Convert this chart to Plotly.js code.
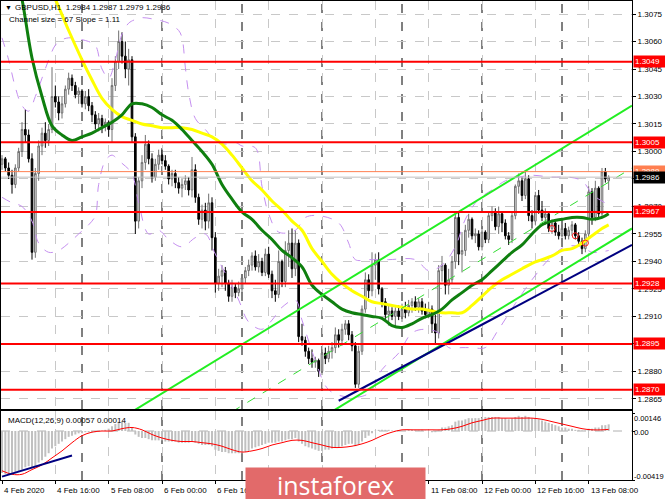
<!DOCTYPE html>
<html><head><meta charset="utf-8">
<script src="https://cdn.plot.ly/plotly-3.0.1.min.js"></script>
<style>html,body{margin:0;padding:0;background:#fff;overflow:hidden}#chart{width:665px;height:499px}</style>
</head><body><div id="chart"></div>
<script>
// ---------- DATA (GBPUSD H1, bar index 0 = 4 Feb 2020 00:00) ----------
const open = [
1.2993,1.2996,1.2991,1.2987,1.2982,1.2991,1.3000,1.3012,1.3009,1.2996,
1.2945,1.2988,1.3003,1.3010,1.3006,1.3012,1.3030,1.3027,1.3021,1.3026,
1.3034,1.3040,1.3036,1.3031,1.3033,1.3026,1.3030,1.3025,1.3020,1.3015,
1.3018,1.3014,1.3016,1.3012,1.3036,1.3049,1.3060,1.3052,1.3045,1.3050,
1.3008,1.2962,1.2984,1.2994,1.3004,1.2996,1.2986,1.2993,1.2998,1.2995,
1.2992,1.2985,1.2988,1.2983,1.2980,1.2982,1.2984,1.2979,1.2990,1.2975,
1.2963,1.2968,1.2962,1.2972,1.2953,1.2928,1.2932,1.2935,1.2928,1.2921,
1.2926,1.2923,1.2925,1.2931,1.2935,1.2938,1.2943,1.2937,1.2940,1.2934,
1.2944,1.2933,1.2924,1.2922,1.2940,1.2929,1.2946,1.2950,1.2936,1.2950,
1.2899,1.2897,1.2891,1.2887,1.2885,1.2886,1.2880,1.2890,1.2887,1.2891,
1.2893,1.2900,1.2897,1.2903,1.2906,1.2900,1.2894,1.2873,1.2891,1.2914,
1.2930,1.2924,1.2938,1.2941,1.2925,1.2918,1.2911,1.2913,1.2910,1.2913,
1.2910,1.2914,1.2912,1.2916,1.2918,1.2915,1.2918,1.2913,1.2911,1.2914,
1.2906,1.2901,1.2935,1.2938,1.2927,1.2930,1.2940,1.2964,1.2944,1.2946,
1.2957,1.2963,1.2954,1.2955,1.2948,1.2956,1.2952,1.2965,1.2967,1.2959,
1.2966,1.2961,1.2954,1.2952,1.2965,1.2981,1.2984,1.2976,1.2985,1.2965,
1.2962,1.2976,1.2968,1.2964,1.2966,1.2958,1.2961,1.2956,1.2954,1.2958,
1.2954,1.2957,1.2960,1.2954,1.2951,1.2947,1.2955,1.2978,1.2964,1.2980,
1.2966,1.2989,1.2984];
const high = [
1.2998,1.2997,1.2994,1.2990,1.2993,1.3002,1.3016,1.3023,1.3012,1.2999,
1.2991,1.3006,1.3013,1.3016,1.3015,1.3046,1.3036,1.3030,1.3030,1.3036,
1.3043,1.3042,1.3038,1.3035,1.3034,1.3033,1.3034,1.3027,1.3022,1.3021,
1.3020,1.3018,1.3017,1.3040,1.3052,1.3066,1.3065,1.3060,1.3056,1.3052,
1.3010,1.2986,1.2998,1.3009,1.3006,1.2999,1.2996,1.3001,1.3001,1.2998,
1.2993,1.2990,1.2990,1.2986,1.2985,1.2987,1.2986,1.2997,1.2993,1.2977,
1.2971,1.2972,1.2977,1.2975,1.2956,1.2936,1.2938,1.2937,1.2930,1.2930,
1.2928,1.2929,1.2933,1.2937,1.2941,1.2945,1.2946,1.2944,1.2942,1.2947,
1.2948,1.2935,1.2930,1.2946,1.2941,1.2951,1.2957,1.2958,1.2957,1.2952,
1.2906,1.2899,1.2893,1.2892,1.2888,1.2887,1.2892,1.2893,1.2894,1.2896,
1.2904,1.2903,1.2906,1.2908,1.2908,1.2902,1.2896,1.2894,1.2916,1.2934,
1.2933,1.2945,1.2944,1.2945,1.2926,1.2920,1.2916,1.2915,1.2915,1.2916,
1.2917,1.2918,1.2919,1.2920,1.2921,1.2920,1.2920,1.2917,1.2918,1.2916,
1.2911,1.2938,1.2943,1.2939,1.2936,1.2943,1.2966,1.2967,1.2956,1.2960,
1.2966,1.2964,1.2958,1.2957,1.2959,1.2957,1.2967,1.2970,1.2969,1.2970,
1.2967,1.2963,1.2956,1.2967,1.2982,1.2988,1.2986,1.2989,1.2987,1.2968,
1.2978,1.2979,1.2973,1.2969,1.2967,1.2963,1.2962,1.2960,1.2960,1.2961,
1.2959,1.2962,1.2961,1.2956,1.2953,1.2957,1.2981,1.2980,1.2984,1.2981,
1.2991,1.2991,1.2987];
const low = [
1.2990,1.2989,1.2985,1.2977,1.2980,1.2989,1.2997,1.3005,1.2994,1.2941,
1.2942,1.2984,1.2998,1.3002,1.3003,1.3010,1.3024,1.3017,1.3018,1.3024,
1.3031,1.3033,1.3029,1.3026,1.3024,1.3023,1.3022,1.3016,1.3012,1.3011,
1.3010,1.3011,1.3008,1.3005,1.3033,1.3045,1.3048,1.3040,1.3036,1.3005,
1.2955,1.2958,1.2980,1.2990,1.2993,1.2983,1.2984,1.2990,1.2993,1.2990,
1.2982,1.2981,1.2980,1.2977,1.2975,1.2979,1.2976,1.2975,1.2972,1.2960,
1.2958,1.2957,1.2958,1.2946,1.2923,1.2924,1.2926,1.2924,1.2918,1.2918,
1.2920,1.2921,1.2923,1.2928,1.2932,1.2935,1.2935,1.2934,1.2932,1.2932,
1.2931,1.2920,1.2918,1.2920,1.2926,1.2926,1.2937,1.2931,1.2932,1.2896,
1.2894,1.2888,1.2884,1.2882,1.2882,1.2877,1.2878,1.2884,1.2885,1.2887,
1.2890,1.2893,1.2894,1.2900,1.2897,1.2891,1.2871,1.2871,1.2889,1.2912,
1.2920,1.2921,1.2930,1.2922,1.2915,1.2908,1.2905,1.2908,1.2904,1.2908,
1.2907,1.2909,1.2910,1.2912,1.2913,1.2912,1.2911,1.2909,1.2909,1.2901,
1.2895,1.2898,1.2929,1.2922,1.2922,1.2928,1.2936,1.2938,1.2934,1.2943,
1.2953,1.2952,1.2950,1.2946,1.2946,1.2950,1.2950,1.2962,1.2957,1.2955,
1.2956,1.2952,1.2949,1.2950,1.2963,1.2977,1.2973,1.2974,1.2962,1.2958,
1.2960,1.2966,1.2962,1.2960,1.2956,1.2955,1.2954,1.2952,1.2953,1.2952,
1.2952,1.2954,1.2952,1.2949,1.2944,1.2945,1.2953,1.2960,1.2962,1.2963,
1.2964,1.2983,1.2979];
const close = [
1.2996,1.2991,1.2987,1.2982,1.2991,1.3000,1.3012,1.3009,1.2996,1.2945,
1.2988,1.3003,1.3010,1.3006,1.3012,1.3030,1.3027,1.3021,1.3026,1.3034,
1.3040,1.3036,1.3031,1.3033,1.3026,1.3030,1.3025,1.3020,1.3015,1.3018,
1.3014,1.3016,1.3012,1.3036,1.3049,1.3060,1.3052,1.3045,1.3050,1.3008,
1.2962,1.2984,1.2994,1.3004,1.2996,1.2986,1.2993,1.2998,1.2995,1.2992,
1.2985,1.2988,1.2983,1.2980,1.2982,1.2984,1.2979,1.2990,1.2975,1.2963,
1.2968,1.2962,1.2972,1.2953,1.2928,1.2932,1.2935,1.2928,1.2921,1.2926,
1.2923,1.2925,1.2931,1.2935,1.2938,1.2943,1.2937,1.2940,1.2934,1.2944,
1.2933,1.2924,1.2922,1.2940,1.2929,1.2946,1.2950,1.2936,1.2950,1.2899,
1.2897,1.2891,1.2887,1.2885,1.2886,1.2880,1.2890,1.2887,1.2891,1.2893,
1.2900,1.2897,1.2903,1.2906,1.2900,1.2894,1.2873,1.2891,1.2914,1.2930,
1.2924,1.2938,1.2941,1.2925,1.2918,1.2911,1.2913,1.2910,1.2913,1.2910,
1.2914,1.2912,1.2916,1.2918,1.2915,1.2918,1.2913,1.2911,1.2914,1.2906,
1.2901,1.2935,1.2938,1.2927,1.2930,1.2940,1.2964,1.2944,1.2946,1.2957,
1.2963,1.2954,1.2955,1.2948,1.2956,1.2952,1.2965,1.2967,1.2959,1.2966,
1.2961,1.2954,1.2952,1.2965,1.2981,1.2984,1.2976,1.2985,1.2965,1.2962,
1.2976,1.2968,1.2964,1.2966,1.2958,1.2961,1.2956,1.2954,1.2958,1.2954,
1.2957,1.2960,1.2954,1.2951,1.2947,1.2955,1.2978,1.2964,1.2980,1.2966,
1.2989,1.2985,1.2986];

// Moving averages (bar index, price)
const maYellowX = [14,16,20,24,27,30,33,36,39,42,45,48,51,54,57,60,63,66,69,72,75,78,81,84,87,90,93,96,99,102,105,108,111,114,117,120,123,126,129,132,135,138,141,144,147,150,153,156,159,162,165,168,171,174,177,180,182];
const maYellowY = [1.3090,1.3083,1.3066,1.3050,1.3039,1.3029,1.3023,1.3019,1.3017,1.3015,1.3014,1.3013,1.3013,1.3013,1.3012,1.3010,1.3008,1.3004,1.2998,1.2991,1.2984,1.2979,1.2973,1.2968,1.2962,1.2957,1.2947,1.2940,1.2933,1.2928,1.2924,1.2921,1.2918,1.2917,1.2916,1.2915,1.2914,1.2914,1.2913,1.2912,1.2912,1.2912,1.2916,1.2921,1.2926,1.2930,1.2933,1.2936,1.2939,1.2941,1.2943,1.2946,1.2947,1.2950,1.2954,1.2958,1.2960];
const maGreenX = [5,6,9,12,15,18,21,24,27,30,33,36,39,42,45,48,51,54,57,60,63,66,69,72,75,78,81,84,87,90,93,96,99,102,105,108,111,114,117,120,123,126,129,132,135,138,141,144,147,150,153,156,159,162,165,168,171,174,177,180,182];
const maGreenY = [1.3090,1.3083,1.3051,1.3030,1.3014,1.3009,1.3006,1.3008,1.3010,1.3013,1.3016,1.3020,1.3026,1.3026,1.3024,1.3020,1.3017,1.3012,1.3006,1.3000,1.2993,1.2982,1.2974,1.2967,1.2963,1.2957,1.2952,1.2946,1.2942,1.2937,1.2927,1.2922,1.2918,1.2914,1.2912,1.2911,1.2910,1.2909,1.2905,1.2904,1.2906,1.2909,1.2911,1.2914,1.2919,1.2923,1.2927,1.2930,1.2935,1.2940,1.2945,1.2949,1.2955,1.2960,1.2962,1.2963,1.2964,1.2964,1.2963,1.2964,1.2966];

// Bollinger-style bands (dashed violet)
const bbUpX = [0,2,4,6,8,10,12,14,16,18,20,22,24,26,28,30,32,34,36,38,40,42,46,50,53,54,55,56,58,61,64,67,70,72,76,78,80,83,88,91,95,101,104,106,110,116,124,128,132,136,139,143,147,151,155,159,165,170,174,177,179,182];
const bbUpY = [1.3062,1.3050,1.3035,1.3025,1.3022,1.3030,1.3040,1.3050,1.3058,1.3061,1.3062,1.3062,1.3061,1.3060,1.3058,1.3045,1.3040,1.3050,1.3064,1.3070,1.3072,1.3073,1.3072,1.3070,1.3066,1.3062,1.3046,1.3032,1.3018,1.3012,1.3006,1.3004,1.3005,1.3003,1.3002,1.2981,1.2966,1.2956,1.2957,1.2964,1.2965,1.2961,1.2950,1.2941,1.2941,1.2941,1.2941,1.2935,1.2938,1.2948,1.2963,1.2974,1.2979,1.2984,1.2986,1.2987,1.2986,1.2986,1.2984,1.2977,1.2974,1.2971];
const bbLoX = [0,3,6,9,11,14,17,20,23,26,28,29,31,33,35,37,39,41,44,47,50,54,58,61,64,68,71,74,78,81,84,88,90,94,98,104,110,114,119,123,127,131,134,138,141,145,149,154,159,164,169,174,177,182];
const bbLoY = [1.2975,1.2972,1.2970,1.2962,1.2950,1.2945,1.2946,1.2950,1.2955,1.2960,1.2965,1.2982,1.2995,1.2998,1.2995,1.2992,1.2988,1.2972,1.2955,1.2957,1.2952,1.2948,1.2953,1.2955,1.2944,1.2930,1.2919,1.2907,1.2903,1.2908,1.2915,1.2919,1.2908,1.2886,1.2870,1.2866,1.2868,1.2881,1.2890,1.2901,1.2903,1.2901,1.2893,1.2893,1.2893,1.2893,1.2903,1.2917,1.2930,1.2941,1.2948,1.2948,1.2945,1.2946];

// Regression channel (Channel size = 67, Slope = 1.11) and trend line
const chUpperX = [39, 189], chUpperY = [1.2858, 1.3025];
const chMidX   = [69, 189], chMidY   = [1.2858, 1.2991];
const chLowerX = [98, 189], chLowerY = [1.2857, 1.2958];
const trendX   = [101, 189], trendY  = [1.2864, 1.2949];

// Horizontal levels
const redLevels = [1.3049, 1.3005, 1.2967, 1.2928, 1.2895, 1.2870];
const orangeLevel = 1.2989;
const bidLevel = 1.2986;

// Small red circle markers
const circX = [165, 172, 175], circY = [1.2958, 1.2954, 1.2950];

// MACD(12,26,9)
const macdHist = [
-0.0036,-0.0037,-0.0037,-0.0037,-0.0036,-0.0035,-0.0033,-0.0031,-0.0030,-0.0031,
-0.0030,-0.0027,-0.0025,-0.0022,-0.0019,-0.0015,-0.0013,-0.0011,-0.0009,-0.0007,
-0.0005,-0.0004,-0.0003,-0.0002,-0.0002,-0.0001,-0.0001,-0.0001,-0.0001,-0.00003,
0.00003,0.0001,0.0002,0.0004,0.0006,0.0008,0.0008,0.0007,0.0007,0.0003,
-0.0003,-0.0005,-0.0006,-0.0006,-0.0007,-0.0008,-0.0008,-0.0008,-0.0008,-0.0009,
-0.0009,-0.0009,-0.0009,-0.0010,-0.0010,-0.0010,-0.0010,-0.0009,-0.0010,-0.0011,
-0.0012,-0.0012,-0.0012,-0.0013,-0.0016,-0.0017,-0.0018,-0.0018,-0.0019,-0.0019,
-0.0019,-0.0019,-0.0019,-0.0018,-0.0017,-0.0015,-0.0014,-0.0013,-0.0012,-0.0011,
-0.0010,-0.0010,-0.0010,-0.0009,-0.0009,-0.0008,-0.0007,-0.0007,-0.0006,-0.0009,
-0.0011,-0.0013,-0.0014,-0.0015,-0.0016,-0.0017,-0.0017,-0.0016,-0.0016,-0.0015,
-0.0014,-0.0014,-0.0013,-0.0012,-0.0011,-0.0011,-0.0013,-0.0012,-0.0009,-0.0006,
-0.0004,-0.0002,0.00003,0.0001,0.0001,0.0001,0.0001,0.00004,0.00003,0.00003,
0.00003,0.00004,0.0001,0.0001,0.0001,0.0001,0.0001,0.00004,0.00003,-0.0001,
-0.0001,0.0001,0.0003,0.0003,0.0004,0.0005,0.0008,0.0009,0.0009,0.0010,
0.0011,0.0011,0.0011,0.0011,0.0011,0.0012,0.0012,0.0012,0.0012,0.0012,
0.0011,0.0011,0.0010,0.0011,0.0012,0.0013,0.0012,0.0013,0.0012,0.0011,
0.0011,0.0010,0.0009,0.0008,0.0007,0.0006,0.0005,0.0004,0.0003,0.0003,
0.0002,0.0002,0.0001,0.0001,0.00004,0.00004,0.0002,0.0002,0.0003,0.0003,
0.0005,0.0005,0.00057];
const sigX = [0,3,6,9,12,15,18,21,24,27,30,33,36,39,42,45,48,51,54,57,60,63,66,69,72,75,78,81,84,87,90,93,96,99,102,105,108,111,114,117,120,123,126,129,132,135,138,141,144,147,150,153,156,159,162,165,168,171,174,177,180,182];
const sigY = [-0.0034,-0.0037,-0.0037,-0.0033,-0.0029,-0.0023,-0.0017,-0.0010,-0.0004,-0.0001,0.0000,0.0000,0.0002,0.0003,0.0001,-0.0003,-0.0006,-0.0008,-0.0009,-0.0009,-0.0010,-0.0011,-0.0013,-0.0016,-0.0018,-0.0017,-0.0015,-0.0012,-0.0010,-0.0008,-0.0008,-0.0010,-0.0012,-0.0014,-0.0014,-0.0013,-0.0011,-0.0008,-0.0004,-0.0001,0.0001,0.0001,0.0001,0.0001,0.0001,0.0002,0.0004,0.0007,0.0009,0.0011,0.0011,0.0011,0.0011,0.0011,0.0010,0.0008,0.0006,0.0004,0.0002,0.0001,0.0001,0.00014];
const macdTrendX = [0, 21], macdTrendY = [-0.0039, -0.0021];

// Axis labels (labels hidden behind the watermark in the original are left empty)
const timeIdx = [0,16,32,48,64,80,96,112,128,144,160,176];
const timeText = ['4 Feb 2020','4 Feb 16:00','5 Feb 08:00','6 Feb 00:00','6 Feb 16:00','','','','11 Feb 08:00','12 Feb 00:00','12 Feb 16:00','13 Feb 08:00'];
const daySeparators = [24,48,72,96,120,144,168];
const priceTicks = [1.2865,1.2880,1.2895,1.2910,1.2925,1.2940,1.2955,1.2970,1.2985,1.3000,1.3015,1.3030,1.3045,1.3060,1.3075];
const priceTickText = ['1.2865','1.2880','','1.2910','1.2925','1.2940','1.2955','1.2970','','1.3000','1.3015','1.3030','1.3045','1.3060','1.3075'];
const macdTicks = [0.00146, 0, -0.00419];
const macdTickText = ['0.00146','0.00','-0.00419'];

// ---------- LAYOUT HELPERS ----------
const W = 665, H = 499, ML = 1, MR = 33, MT = 1, MB = 19;
const PW = W - ML - MR, PH = H - MT - MB;
const px = p => (p - ML) / PW;
const py = p => (H - MB - p) / PH;
const F = 'Liberation Sans, Arial, sans-serif';
const idx = open.map((_, i) => i);
const last = open.length - 1;
const xr = [-0.3, 189.0];

const traces = [];
traces.push({type:'candlestick', x: idx, open, high, low, close, xaxis:'x', yaxis:'y',
  increasing:{line:{color:'#707070', width:1}, fillcolor:'#e0e0e0'},
  decreasing:{line:{color:'#000000', width:1}, fillcolor:'#000000'},
  whiskerwidth:0, hoverinfo:'skip', showlegend:false});
const bbStyle = {color:'#c58ff0', width:1, dash:'dash', shape:'spline'};
traces.push({type:'scatter', mode:'lines', x:bbUpX, y:bbUpY, line:bbStyle, xaxis:'x', yaxis:'y', hoverinfo:'skip'});
traces.push({type:'scatter', mode:'lines', x:bbLoX, y:bbLoY, line:bbStyle, xaxis:'x', yaxis:'y', hoverinfo:'skip'});
traces.push({type:'scatter', mode:'lines', x:maYellowX, y:maYellowY, line:{color:'#ffff00', width:3, shape:'spline'}, xaxis:'x', yaxis:'y', hoverinfo:'skip'});
traces.push({type:'scatter', mode:'lines', x:maGreenX, y:maGreenY, line:{color:'#0f7f0f', width:3, shape:'spline'}, xaxis:'x', yaxis:'y', hoverinfo:'skip'});
traces.push({type:'scatter', mode:'lines', x:chUpperX, y:chUpperY, line:{color:'#22ee22', width:2}, xaxis:'x', yaxis:'y', hoverinfo:'skip'});
traces.push({type:'scatter', mode:'lines', x:chLowerX, y:chLowerY, line:{color:'#22ee22', width:2}, xaxis:'x', yaxis:'y', hoverinfo:'skip'});
traces.push({type:'scatter', mode:'lines', x:chMidX, y:chMidY, line:{color:'#33dd33', width:1, dash:'dash'}, xaxis:'x', yaxis:'y', hoverinfo:'skip'});
traces.push({type:'scatter', mode:'lines', x:trendX, y:trendY, line:{color:'#000080', width:2}, xaxis:'x', yaxis:'y', hoverinfo:'skip'});
traces.push({type:'scatter', mode:'markers', x:circX, y:circY, marker:{symbol:'circle-open', color:'#ff2020', size:6, line:{width:1}}, xaxis:'x', yaxis:'y', hoverinfo:'skip'});
traces.push({type:'bar', x: idx, y: macdHist, marker:{color:'#c0c0c0'}, xaxis:'x2', yaxis:'y2', hoverinfo:'skip'});
traces.push({type:'scatter', mode:'lines', x:sigX, y:sigY, line:{color:'#ff0000', width:1, shape:'spline'}, xaxis:'x2', yaxis:'y2', hoverinfo:'skip'});
traces.push({type:'scatter', mode:'lines', x:macdTrendX, y:macdTrendY, line:{color:'#000080', width:2}, xaxis:'x2', yaxis:'y2', hoverinfo:'skip'});

const shapes = [];
daySeparators.forEach(d => {
  shapes.push({type:'line', xref:'x', yref:'paper', x0:d, x1:d, y0:py(409), y1:1, layer:'below', line:{color:'#000', width:1, dash:'dash'}});
  shapes.push({type:'line', xref:'x2', yref:'paper', x0:d, x1:d, y0:0, y1:py(411), layer:'below', line:{color:'#000', width:1, dash:'dash'}});
});
shapes.push({type:'line', xref:'paper', yref:'y2', x0:0, x1:1, y0:0, y1:0, layer:'below', line:{color:'#b0b0b0', width:1, dash:'dash'}});
shapes.push({type:'line', xref:'paper', yref:'y', x0:0, x1:1, y0:bidLevel, y1:bidLevel, layer:'above', line:{color:'#c0c0c0', width:1}});
shapes.push({type:'line', xref:'paper', yref:'y', x0:0, x1:1, y0:orangeLevel, y1:orangeLevel, layer:'above', line:{color:'#ff7f50', width:1}});
redLevels.forEach(v => shapes.push({type:'line', xref:'paper', yref:'y', x0:0, x1:1, y0:v, y1:v, layer:'above', line:{color:'#ff0000', width:2}}));

const annotations = [];
const fmt = v => v.toFixed(4);
annotations.push({xref:'paper', yref:'paper', x:px(3), y:py(8), xanchor:'left', yanchor:'middle', text:'\u25BC', showarrow:false, font:{family:F, size:7, color:'#000'}});
annotations.push({xref:'paper', yref:'paper', x:px(13), y:py(8), xanchor:'left', yanchor:'middle',
  text:'GBPUSD,H1\u00a0 ' + [open[last], high[last], low[last], close[last]].map(fmt).join(' '), showarrow:false, font:{family:F, size:8, color:'#000'}});
annotations.push({xref:'paper', yref:'paper', x:px(7), y:py(19), xanchor:'left', yanchor:'middle', text:'Channel size = 67 Slope = 1.11', showarrow:false, font:{family:F, size:8, color:'#000'}});
annotations.push({xref:'paper', yref:'paper', x:px(6), y:py(420), xanchor:'left', yanchor:'middle', text:'MACD(12,26,9) 0.00057 0.00014', showarrow:false, font:{family:F, size:8, color:'#000'}});
// MACD scale labels
[418, 432, 476].forEach((yy, k) => annotations.push({xref:'paper', yref:'paper', x:px(633), y:py(yy), xanchor:'left', yanchor:'middle',
  text:macdTickText[k], showarrow:false, borderpad:0, font:{family:F, size:7.5, color:'#000'}}));
// price boxes
const box = (v, bg, txt) => ({xref:'paper', yref:'y', x:1, y:v, xanchor:'left', yanchor:'middle', xshift:1, text:txt, showarrow:false,
  bgcolor:bg, borderpad:1, width:29, height:9, align:'left', font:{family:F, size:8, color:'#fff'}});
redLevels.forEach(v => annotations.push(box(v, '#ff0000', fmt(v))));
annotations.push(box(orangeLevel, '#ff7f50', fmt(orangeLevel)));
annotations.push(box(bidLevel, '#000000', fmt(bidLevel)));
// time labels
timeIdx.forEach((t, k) => { if (timeText[k]) annotations.push({xref:'x2', yref:'paper', x:t, y:py(490), xanchor:'left', yanchor:'middle', text:timeText[k], showarrow:false, font:{family:F, size:8, color:'#000'}}); });
// watermark
annotations.push({xref:'paper', yref:'paper', x:px(245), y:py(467), xanchor:'left', yanchor:'top', width:177, height:31, bgcolor:'#e26a6a',
  text:'instaforex', showarrow:false, font:{family:'Open Sans, Roboto, sans-serif', size:25, color:'#ffffff'}});

const axCommon = {showline:true, mirror:true, linecolor:'#000', linewidth:1, zeroline:false, fixedrange:true};
const layout = {
  width:W, height:H, margin:{l:ML, r:MR, t:MT, b:MB, pad:0},
  paper_bgcolor:'#fff', plot_bgcolor:'#fff', showlegend:false, hovermode:false, bargap:0.4,
  xaxis: Object.assign({}, axCommon, {domain:[0,1], range:xr, anchor:'y', tickvals:timeIdx, showticklabels:false, ticks:'',
    showgrid:true, gridcolor:'#c8c8c8', griddash:'dash', gridwidth:1, rangeslider:{visible:false}}),
  yaxis: Object.assign({}, axCommon, {domain:[py(409),1], range:[1.28595,1.30821], anchor:'x', side:'right', tickvals:priceTicks, ticktext:priceTickText,
    ticks:'outside', ticklen:3, tickcolor:'#000', tickfont:{family:F, size:8, color:'#000'},
    showgrid:true, gridcolor:'#c8c8c8', griddash:'dash', gridwidth:1}),
  xaxis2: Object.assign({}, axCommon, {domain:[0,1], range:xr, anchor:'y2', tickvals:timeIdx, showticklabels:false, ticks:'outside', ticklen:3, tickcolor:'#000',
    showgrid:true, gridcolor:'#c8c8c8', griddash:'dash', gridwidth:1}),
  yaxis2: Object.assign({}, axCommon, {domain:[0, py(411)], range:[-0.00419, 0.00171], anchor:'x2', side:'right', tickvals:macdTicks, ticktext:['','',''],
    ticks:'outside', ticklen:2, tickcolor:'#000', showgrid:false}),
  shapes, annotations
};
Plotly.newPlot('chart', traces, layout, {staticPlot:true, displayModeBar:false});
</script>
</body></html>
